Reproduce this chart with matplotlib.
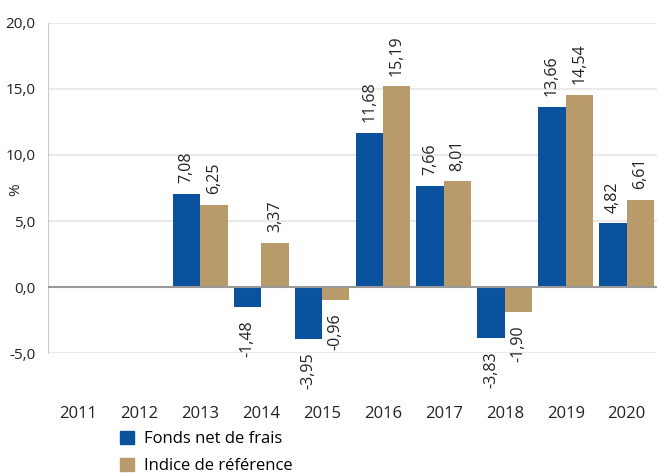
import matplotlib.pyplot as plt
import numpy as np
from matplotlib.patches import Patch

years = ['2011', '2012', '2013', '2014', '2015', '2016', '2017', '2018', '2019', '2020']
fonds = [None, None, 7.08, -1.48, -3.95, 11.68, 7.66, -3.83, 13.66, 4.82]
indice = [None, None, 6.25, 3.37, -0.96, 15.19, 8.01, -1.90, 14.54, 6.61]

BLUE = '#0a519e'
GOLD = '#b99b6b'

plt.rcParams['font.family'] = ['Open Sans', 'DejaVu Sans']

fig = plt.figure(figsize=(6.57, 4.76), dpi=100)
ax = fig.add_axes([0.073, 0.258, 0.927, 0.694])

x = np.arange(len(years))
w = 0.45


def fmt(v):
    return ('%.2f' % v).replace('.', ',')


for vals, off, col in [(fonds, -w / 2, BLUE), (indice, w / 2, GOLD)]:
    for i, v in enumerate(vals):
        if v is None:
            continue
        ax.bar(x[i] + off, v, width=w, color=col, zorder=3)
        if v >= 0:
            ax.text(x[i] + off, v + 0.8, fmt(v), rotation=90, ha='center', va='bottom', fontsize=11.5, color='#222222')
        else:
            ax.text(x[i] + off, v - 1.0, fmt(v), rotation=90, ha='center', va='top', fontsize=11.5, color='#222222')

ax.set_xlim(-0.5, len(years) - 0.5)
ax.set_ylim(-5, 20)
ax.set_yticks([-5, 0, 5, 10, 15, 20])
ax.set_yticklabels([fmt(t)[:-1] for t in [-5, 0, 5, 10, 15, 20]], fontsize=11, color='#222222')
ax.set_xticks(x)
ax.set_xticklabels(years, fontsize=12, color='#222222')
ax.tick_params(axis='x', length=0, pad=38)
ax.tick_params(axis='y', length=0, pad=9)
ax.grid(axis='y', color='#e6e6e6', linewidth=1.2, zorder=0)
ax.axhline(0, color='#999999', linewidth=1.5, zorder=4)
for s in ['top', 'right', 'bottom']:
    ax.spines[s].set_visible(False)
ax.spines['left'].set_color('#cccccc')
ax.set_ylabel('%', fontsize=11, color='#222222')
ax.yaxis.set_label_coords(-0.041, 0.494)

handles = [Patch(color=BLUE, label='Fonds net de frais'), Patch(color=GOLD, label='Indice de référence')]
fig.legend(handles=handles, loc='upper left', bbox_to_anchor=(0.183, 0.094), frameon=False,
           fontsize=12, handlelength=0.8, handleheight=0.8, handletextpad=0.6, labelspacing=0.62,
           borderaxespad=0, borderpad=0)

fig.savefig('out.png', dpi=100)
